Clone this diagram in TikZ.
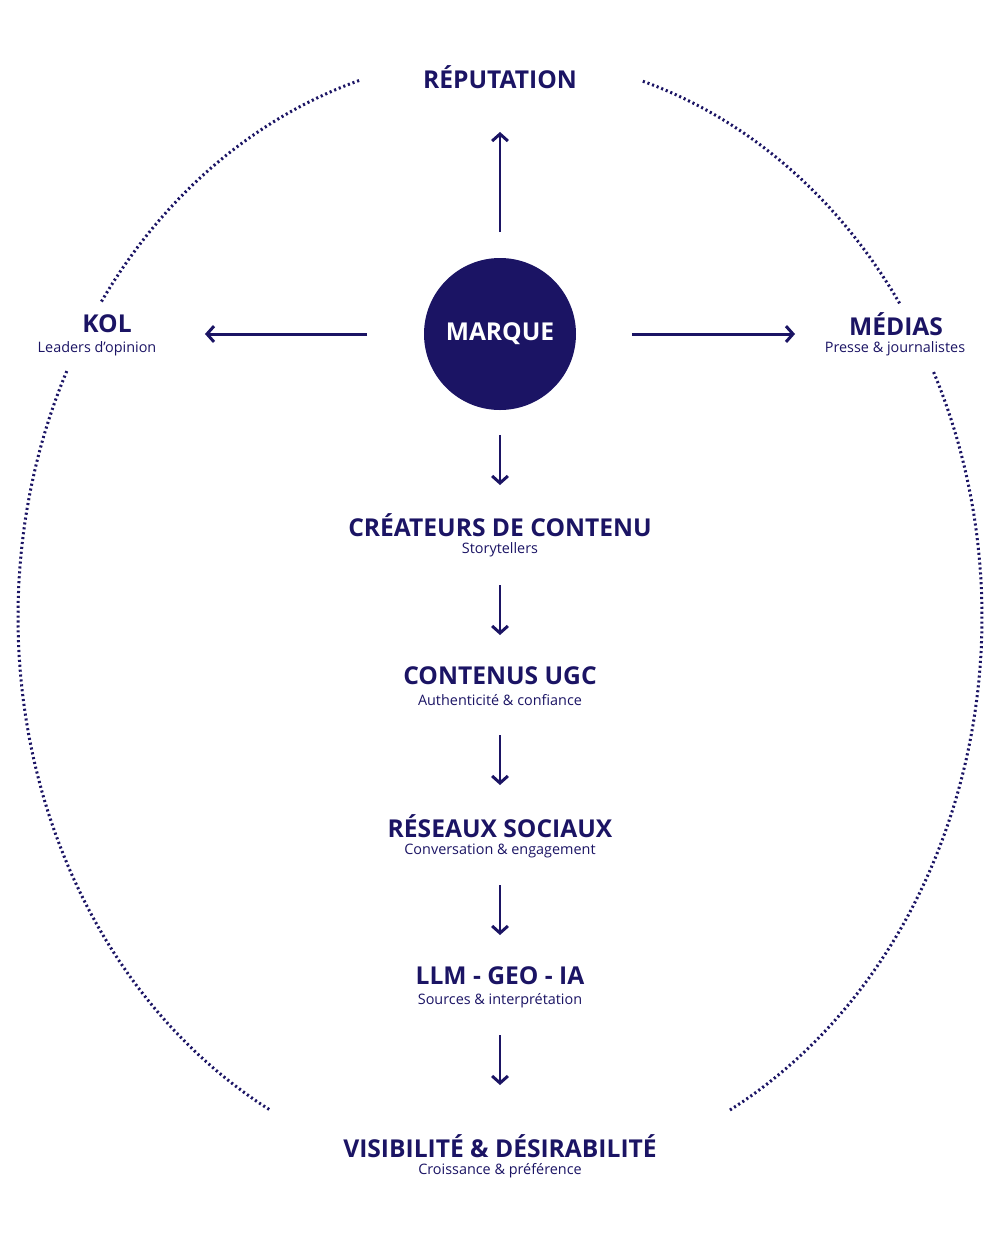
\documentclass[tikz,border=0pt]{standalone}
\usepackage{fontspec}
\setmainfont{Open Sans}
\usetikzlibrary{arrows.meta}
\definecolor{navy}{HTML}{1B1464}
\begin{document}
\begin{tikzpicture}[x=0.02cm, y=-0.02cm, navy,
    title/.style={font=\fontsize{14}{16}\selectfont\bfseries, inner sep=0pt},
    sub/.style={font=\fontsize{8.2}{10}\selectfont, inner sep=0pt},
    arr/.style={-{Straight Barb[length=4pt, width=9pt]}, line width=1.7pt},
    ring/.style={line width=1.7pt, dash pattern=on 1.2pt off 1.6pt}]
    \useasboundingbox (0,0) rectangle (999,1249);
    % dotted ring
    \draw[ring] plot[domain=107:146, samples=60] ({500+482*cos(\x)},{617-561*sin(\x)});
    \draw[ring] plot[domain=34:73, samples=60] ({500+482*cos(\x)},{617-561*sin(\x)});
    \draw[ring] plot[domain=154:241.5, samples=100] ({500+482*cos(\x)},{617-561*sin(\x)});
    \draw[ring] plot[domain=-61.5:26, samples=100] ({500+482*cos(\x)},{617-561*sin(\x)});
    % centre
    \node[circle, fill=navy, minimum size=152*0.02cm, text=white, title] (marque) at (500,334) {MARQUE};
    \node[title] (reputation) at (500,77) {RÉPUTATION};
    \node[title] (kol) at (107,324) {KOL};
    \node[sub] (kol-sub) at (97,349) {Leaders d’opinion};
    \node[title] (medias) at (896,324) {MÉDIAS};
    \node[sub] (medias-sub) at (895,349) {Presse \& journalistes};
    % chain
    \node[title] (crea) at (500,525) {CRÉATEURS DE CONTENU};
    \node[sub] (crea-sub) at (500,550) {Storytellers};
    \node[title] (ugc) at (500,676) {CONTENUS UGC};
    \node[sub] (ugc-sub) at (500,700) {Authenticité \& confiance};
    \node[title] (reseaux) at (500,826) {RÉSEAUX SOCIAUX};
    \node[sub] (reseaux-sub) at (500,851) {Conversation \& engagement};
    \node[title] (llm) at (500,976) {LLM - GEO - IA};
    \node[sub] (llm-sub) at (500,1001) {Sources \& interprétation};
    \node[title] (visib) at (500,1146) {VISIBILITÉ \& DÉSIRABILITÉ};
    \node[sub] (visib-sub) at (500,1171) {Croissance \& préférence};
    % arrows
    \draw[arr, shorten <=2.04cm, shorten >=1.1cm] (marque.center) -- (reputation.center);
    \draw[arr, shorten <=2.66cm, shorten >=1.96cm] (marque.center) -- (marque -| kol);
    \draw[arr, shorten <=2.64cm, shorten >=2.02cm] (marque.center) -- (marque -| medias);
    \draw[arr, shorten <=2.02cm, shorten >=0.8cm] (marque.center) -- (crea.center);
    \draw[arr, shorten <=0.7cm, shorten >=0.82cm] (crea-sub.center) -- (ugc.center);
    \draw[arr, shorten <=0.7cm, shorten >=0.82cm] (ugc-sub.center) -- (reseaux.center);
    \draw[arr, shorten <=0.68cm, shorten >=0.82cm] (reseaux-sub.center) -- (llm.center);
    \draw[arr, shorten <=0.68cm, shorten >=1.22cm] (llm-sub.center) -- (visib.center);
\end{tikzpicture}
\end{document}
